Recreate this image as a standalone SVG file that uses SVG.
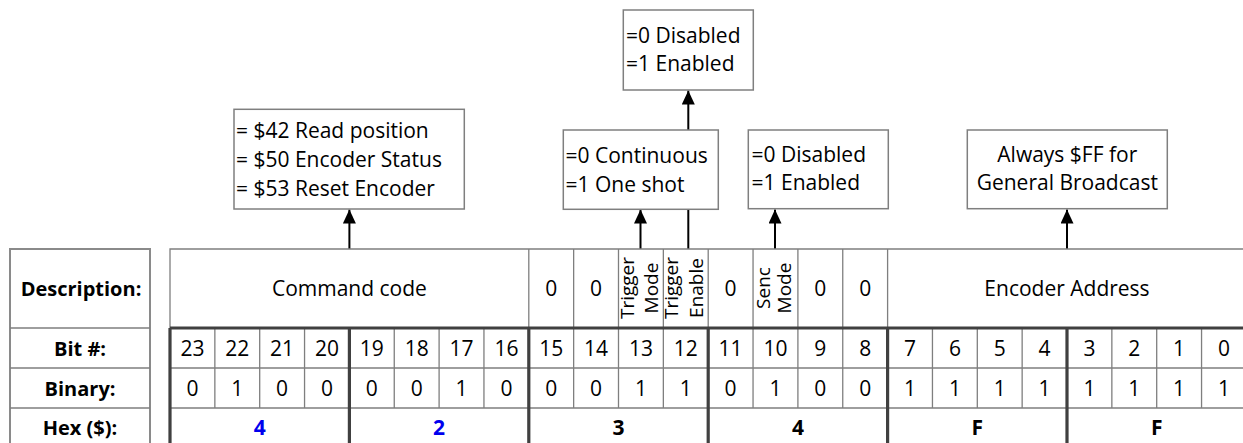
<svg xmlns="http://www.w3.org/2000/svg" width="1243" height="443" viewBox="0 0 1243 443">
<style>
text{font-family:"Open Sans","Noto Sans",sans-serif;font-size:21px;fill:#000}
.c{text-anchor:middle}
.b{font-weight:bold}
.lbl{font-size:20px}
.blue{fill:#0000ee}
.rot{font-size:19px;text-anchor:middle}
.thin{stroke:#7f7f7f;stroke-width:1.3;fill:none}
.frame{stroke:#8a8a8a;stroke-width:2;fill:none}
.thick{stroke:#404040;stroke-width:3.2;fill:none}
.box{fill:#fff;stroke:#7f7f7f;stroke-width:1.5}
.conn{stroke:#000;stroke-width:2;fill:none}
</style>
<defs>
<marker id="ah" markerUnits="userSpaceOnUse" markerWidth="14" markerHeight="14" refX="14" refY="6.5" orient="auto">
<path d="M0,0 L14,6.5 L0,13 z" fill="#000"/>
</marker>
</defs>
<rect width="1243" height="443" fill="#fff"/>

<g id="connectors">
<line class="conn" x1="349.4" y1="249" x2="349.4" y2="209.5" marker-end="url(#ah)"/>
<line class="conn" x1="640.5" y1="249" x2="640.5" y2="209.5" marker-end="url(#ah)"/>
<line class="conn" x1="688.3" y1="249" x2="688.3" y2="90.5" marker-end="url(#ah)"/>
<line class="conn" x1="775" y1="249" x2="775" y2="209.5" marker-end="url(#ah)"/>
<line class="conn" x1="1067" y1="249" x2="1067" y2="209.5" marker-end="url(#ah)"/>
</g>

<g id="box-command">
<rect class="box" x="234" y="109.3" width="230.3" height="99.7"/>
<text x="236" y="137.7">= $42 Read position</text>
<text x="236" y="166.7">= $50 Encoder Status</text>
<text x="236" y="195.7">= $53 Reset Encoder</text>
</g>
<g id="box-enable">
<rect class="box" x="623.3" y="10" width="130" height="80"/>
<text x="626" y="42.7">=0 Disabled</text>
<text x="626" y="71">=1 Enabled</text>
</g>
<g id="box-trigger-mode">
<rect class="box" x="563.3" y="130" width="155" height="79.3"/>
<text x="565.5" y="162.7">=0 Continuous</text>
<text x="565.5" y="191.7">=1 One shot</text>
</g>
<g id="box-senc">
<rect class="box" x="748.3" y="130" width="140" height="78.7"/>
<text x="751.5" y="161.7">=0 Disabled</text>
<text x="751.5" y="190">=1 Enabled</text>
</g>
<g id="box-address">
<rect class="box" x="967.3" y="130" width="200" height="78.7"/>
<text class="c" x="1067.3" y="161.7">Always $FF for</text>
<text class="c" x="1067.3" y="190">General Broadcast</text>
</g>

<g id="labels">
<path class="frame" d="M10,445 V249 H150 V445"/>
<path class="thin" d="M10,328 H150 M10,368 H150 M10,408 H150"/>
<text class="c b lbl" x="81" y="296">Description:</text>
<text class="c b lbl" x="80" y="356">Bit #:</text>
<text class="c b lbl" x="80" y="396">Binary:</text>
<text class="c b lbl" x="80" y="435">Hex ($):</text>
</g>

<g id="description-row">
<path class="thin" d="M170,328 V249 H1243 M528.8,249 V328 M573.65,249 V328 M618.5,249 V328 M663.35,249 V328 M708.2,249 V328 M753.05,249 V328 M797.9,249 V328 M842.75,249 V328 M887.6,249 V328"/>
<text class="c" x="349.4" y="296">Command code</text>
<text class="c" x="551.2" y="296">0</text>
<text class="c" x="596.1" y="296">0</text>
<text class="rot" transform="translate(633.5,288) rotate(-90)"><tspan x="0" y="0">Trigger</tspan><tspan x="0" y="24.5">Mode</tspan></text>
<text class="rot" transform="translate(678,288) rotate(-90)"><tspan x="0" y="0">Trigger</tspan><tspan x="0" y="24.5">Enable</tspan></text>
<text class="c" x="730.6" y="296">0</text>
<text class="rot" transform="translate(770,288) rotate(-90)"><tspan x="0" y="0">Senc</tspan><tspan x="0" y="21">Mode</tspan></text>
<text class="c" x="820.3" y="296">0</text>
<text class="c" x="865.2" y="296">0</text>
<text class="c" x="1067" y="296">Encoder Address</text>
</g>

<g id="bit-grid">
<path class="thin" d="M170,368 H1243 M170,408 H1243
M214.85,328 V408 M259.7,328 V408 M304.55,328 V408
M394.25,328 V408 M439.1,328 V408 M483.95,328 V408
M573.65,328 V408 M618.5,328 V408 M663.35,328 V408
M753.05,328 V408 M797.9,328 V408 M842.75,328 V408
M932.45,328 V408 M977.3,328 V408 M1022.15,328 V408
M1111.85,328 V408 M1156.7,328 V408 M1201.55,328 V408"/>
<path class="thick" d="M170,328 H1243 M170,328 V445 M349.4,328 V445 M528.8,328 V445 M708.2,328 V445 M887.6,328 V445 M1067,328 V445"/>
</g>

<g id="bit-numbers">
<text class="c" x="192.4" y="356">23</text>
<text class="c" x="237.3" y="356">22</text>
<text class="c" x="282.1" y="356">21</text>
<text class="c" x="327" y="356">20</text>
<text class="c" x="371.8" y="356">19</text>
<text class="c" x="416.7" y="356">18</text>
<text class="c" x="461.5" y="356">17</text>
<text class="c" x="506.4" y="356">16</text>
<text class="c" x="551.2" y="356">15</text>
<text class="c" x="596.1" y="356">14</text>
<text class="c" x="640.9" y="356">13</text>
<text class="c" x="685.8" y="356">12</text>
<text class="c" x="730.6" y="356">11</text>
<text class="c" x="775.5" y="356">10</text>
<text class="c" x="820.3" y="356">9</text>
<text class="c" x="865.2" y="356">8</text>
<text class="c" x="910" y="356">7</text>
<text class="c" x="954.9" y="356">6</text>
<text class="c" x="999.7" y="356">5</text>
<text class="c" x="1044.6" y="356">4</text>
<text class="c" x="1089.4" y="356">3</text>
<text class="c" x="1134.3" y="356">2</text>
<text class="c" x="1179.1" y="356">1</text>
<text class="c" x="1224" y="356">0</text>
</g>

<g id="binary-values">
<text class="c" x="192.4" y="396">0</text>
<text class="c" x="237.3" y="396">1</text>
<text class="c" x="282.1" y="396">0</text>
<text class="c" x="327" y="396">0</text>
<text class="c" x="371.8" y="396">0</text>
<text class="c" x="416.7" y="396">0</text>
<text class="c" x="461.5" y="396">1</text>
<text class="c" x="506.4" y="396">0</text>
<text class="c" x="551.2" y="396">0</text>
<text class="c" x="596.1" y="396">0</text>
<text class="c" x="640.9" y="396">1</text>
<text class="c" x="685.8" y="396">1</text>
<text class="c" x="730.6" y="396">0</text>
<text class="c" x="775.5" y="396">1</text>
<text class="c" x="820.3" y="396">0</text>
<text class="c" x="865.2" y="396">0</text>
<text class="c" x="910" y="396">1</text>
<text class="c" x="954.9" y="396">1</text>
<text class="c" x="999.7" y="396">1</text>
<text class="c" x="1044.6" y="396">1</text>
<text class="c" x="1089.4" y="396">1</text>
<text class="c" x="1134.3" y="396">1</text>
<text class="c" x="1179.1" y="396">1</text>
<text class="c" x="1224" y="396">1</text>
</g>

<g id="hex-values">
<text class="c b blue" x="259.7" y="435">4</text>
<text class="c b blue" x="439.1" y="435">2</text>
<text class="c b" x="618.5" y="435">3</text>
<text class="c b" x="797.9" y="435">4</text>
<text class="c b" x="977.3" y="435">F</text>
<text class="c b" x="1156.7" y="435">F</text>
</g>
</svg>
